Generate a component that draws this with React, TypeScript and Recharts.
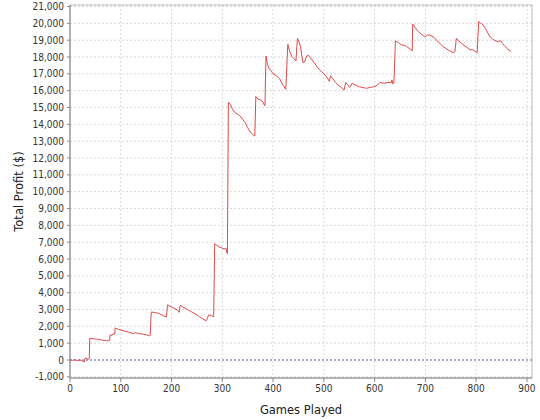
import React from "react";
import { LineChart, Line, XAxis, YAxis, CartesianGrid, ReferenceLine, ReferenceArea } from "recharts";

const games = [0,5,10,15,20,25,28,30,33,37,38,39,45,52,60,68,72,75,78,79,83,85,88,89,95,105,115,125,128,135,145,150,157,158,160,168,175,185,190,192,198,205,212,215,217,222,230,240,248,255,262,268,270,273,278,283,285,290,295,300,305,307,310,312,316,320,325,330,335,340,345,350,355,360,364,366,370,376,380,384,386,389,392,396,400,406,413,418,425,429,433,437,441,445,448,451,454,457,459,462,466,470,472,480,486,492,500,506,511,513,518,523,528,534,540,543,547,551,556,562,568,575,584,592,600,605,610,620,628,633,634,636,638,641,647,653,658,663,669,674,675,680,686,692,699,704,708,712,717,725,735,745,752,755,758,761,766,771,778,783,788,792,797,802,805,810,814,820,827,832,837,844,848,852,857,862,868];

const profits = [0,-20,10,-30,0,-60,-120,120,80,50,60,1290,1260,1240,1200,1150,1170,1130,1150,1490,1470,1560,1540,1900,1820,1740,1660,1560,1620,1580,1520,1500,1440,1460,2850,2820,2760,2620,2560,3270,3180,3080,2950,2830,3250,3150,3020,2850,2720,2560,2430,2330,2420,2680,2650,2570,6900,6800,6700,6640,6600,6650,6300,15300,15200,14900,14700,14600,14500,14300,14100,13800,13550,13400,13300,15650,15500,15450,15300,15100,18050,17600,17300,17200,17000,16900,16700,16400,16080,18760,18300,18030,17900,17770,19110,18900,18620,18000,17650,17700,18060,18100,18000,17700,17450,17230,17000,16800,16550,16880,16700,16500,16340,16200,16040,16480,16350,16200,16440,16350,16240,16200,16140,16200,16240,16320,16480,16450,16500,16480,16640,16400,16450,18950,18850,18720,18700,18620,18500,18360,19960,19750,19510,19350,19210,19300,19310,19250,19170,18900,18620,18420,18300,18260,18300,19110,18950,18820,18650,18550,18420,18440,18350,18260,20100,19990,19900,19600,19210,19080,18970,18910,18970,18800,18620,18480,18340];

const xTicks = [0, 100, 200, 300, 400, 500, 600, 700, 800, 900];
const yTicks = [-1000,0,1000,2000,3000,4000,5000,6000,7000,8000,9000,10000,11000,12000,13000,14000,15000,16000,17000,18000,19000,20000,21000];

const data = games.map((g, i) => ({ game: g, profit: profits[i] }));

const X_MIN = 0, X_MAX = 910, Y_MIN = -1070, Y_MAX = 21090;
const tickFont = { fontFamily: "'DejaVu Sans Condensed', 'DejaVu Sans', sans-serif", fontSize: 10, fill: "#333333" };
const labelFont = { fontFamily: "'DejaVu Sans', sans-serif", fontSize: 11.5, fill: "#222222" };

export default function App() {
  return (
    <div style={{ position: "absolute", left: 0, top: 0, width: 540, height: 420, background: "#fff" }}>
      <LineChart width={540} height={420} data={data} margin={{ top: 5, right: 8, bottom: 12, left: 10 }}>
        <CartesianGrid stroke="#d8d8d8" strokeDasharray="2 2" />
        <ReferenceArea x1={X_MIN} x2={X_MAX} y1={Y_MIN} y2={Y_MAX} fill="none" stroke="#c4c4c4" strokeWidth={1} />
        <XAxis
          type="number"
          dataKey="game"
          domain={[X_MIN, X_MAX]}
          ticks={xTicks}
          allowDataOverflow
          height={30}
          tickSize={4}
          tickMargin={3}
          stroke="#888888"
          tick={tickFont}
          label={{ value: "Games Played", position: "insideBottom", offset: -6, style: labelFont }}
        />
        <YAxis
          type="number"
          domain={[Y_MIN, Y_MAX]}
          ticks={yTicks}
          allowDataOverflow
          interval={0}
          width={60}
          tickSize={3}
          tickMargin={3}
          stroke="#888888"
          tick={tickFont}
          tickFormatter={(v: number) => v.toLocaleString("en-US")}
          label={{ value: "Total Profit ($)", angle: -90, position: "insideLeft", offset: 0, dx: 9, style: { ...labelFont, textAnchor: "middle" } }}
        />
        <ReferenceLine y={0} stroke="#6a6acc" strokeDasharray="2 2" />
        <Line type="linear" dataKey="profit" stroke="#e04a4a" strokeWidth={1} dot={false} isAnimationActive={false} />
      </LineChart>
    </div>
  );
}
